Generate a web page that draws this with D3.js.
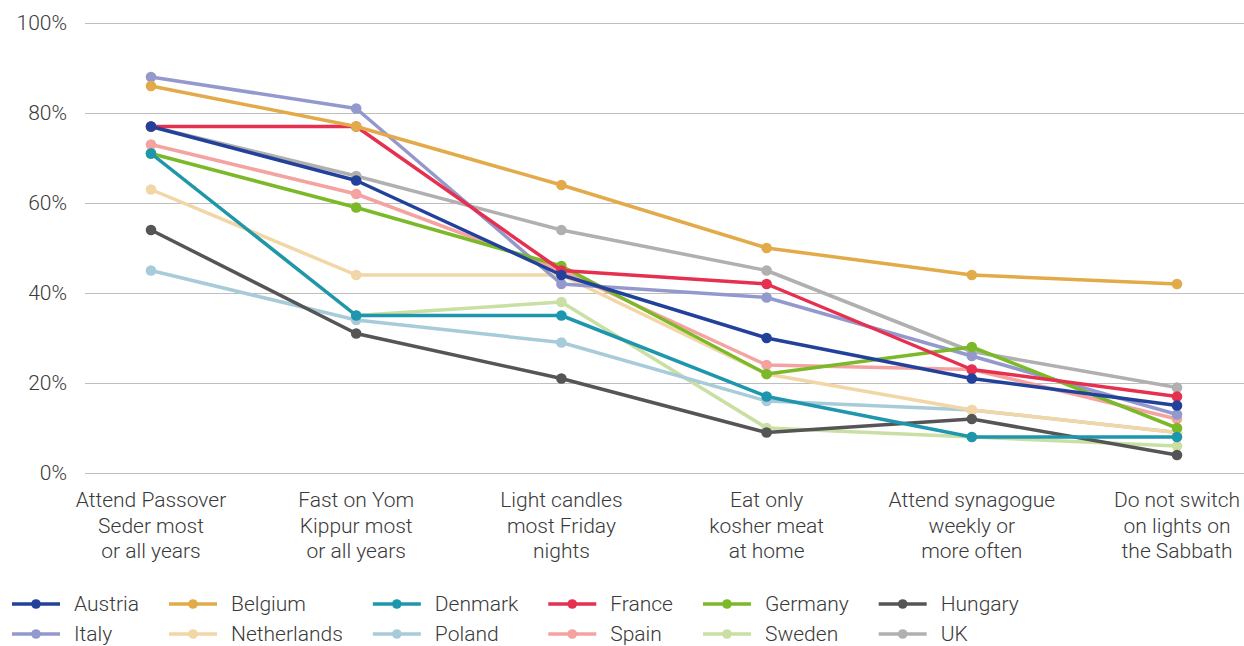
<!DOCTYPE html>
<html>
<head>
<meta charset="utf-8">
<script src="https://cdn.jsdelivr.net/npm/d3@7"></script>
<style>
    body { margin: 0; background: #fff; }
    svg { display: block; font-family: Roboto, "Liberation Sans", sans-serif; font-weight: 300; }
    .tick-label, .cat-label, .legend-label { fill: #3a3a3a; font-size: 21px; }
    .grid { stroke: #bfbfbf; stroke-width: 1; }
</style>
</head>
<body>
<div id="chart-container"></div>
<script>
let categories = [
    ["Attend Passover", "Seder most", "or all years"],
    ["Fast on Yom", "Kippur most", "or all years"],
    ["Light candles", "most Friday", "nights"],
    ["Eat only", "kosher meat", "at home"],
    ["Attend synagogue", "weekly or", "more often"],
    ["Do not switch", "on lights on", "the Sabbath"]
];
let yTicks = [0, 20, 40, 60, 80, 100];

let countries = ["Austria", "Belgium", "Denmark", "France", "Germany", "Hungary",
                 "Italy", "Netherlands", "Poland", "Spain", "Sweden", "UK"];

let austria     = [77, 65, 44, 30, 21, 15];
let belgium     = [86, 77, 64, 50, 44, 42];
let denmark     = [71, 35, 35, 17, 8, 8];
let france      = [77, 77, 45, 42, 23, 17];
let germany     = [71, 59, 46, 22, 28, 10];
let hungary     = [54, 31, 21, 9, 12, 4];
let italy       = [88, 81, 42, 39, 26, 13];
let netherlands = [63, 44, 44, 22, 14, 9];
let poland      = [45, 34, 29, 16, 14, 9];
let spain       = [73, 62, 45, 24, 23, 12];
let sweden      = [71, 35, 38, 10, 8, 6];
let uk          = [77, 66, 54, 45, 27, 19];

let colors = ["#22419a", "#e3aa4a", "#1e97ae", "#e5304f", "#7bb928", "#555555",
              "#9399cc", "#f2d6a6", "#a7cbd8", "#f4a3a0", "#c9dfa3", "#b0b0b0"];

let seriesValues = [austria, belgium, denmark, france, germany, hungary,
                    italy, netherlands, poland, spain, sweden, uk];

let series = countries.map(function(name, i) {
    return {name: name, color: colors[i], values: seriesValues[i]};
});

let width = 1244, height = 646;

let svg = d3.select('#chart-container').append('svg')
    .attr('width', width)
    .attr('height', height);

// Scales
let x = d3.scalePoint()
    .domain(d3.range(categories.length))
    .range([151, 1177]);

let y = d3.scaleLinear()
    .domain([0, 100])
    .range([473, 23]);

// Gridlines + y labels
let grid = svg.append('g');
grid.selectAll('line')
    .data(yTicks)
    .enter().append('line')
    .attr('class', 'grid')
    .attr('x1', 85)
    .attr('x2', width)
    .attr('y1', function(d) { return Math.round(y(d)) + 0.5; })
    .attr('y2', function(d) { return Math.round(y(d)) + 0.5; });

grid.selectAll('text')
    .data(yTicks)
    .enter().append('text')
    .attr('class', 'tick-label')
    .attr('x', 67)
    .attr('y', function(d) { return y(d); })
    .attr('dy', '0.35em')
    .attr('text-anchor', 'end')
    .text(function(d) { return d + '%'; });

// Category labels
let catLabel = svg.append('g').selectAll('text')
    .data(categories)
    .enter().append('text')
    .attr('class', 'cat-label')
    .attr('text-anchor', 'middle')
    .attr('transform', function(d, i) { return 'translate(' + x(i) + ',500)'; });

catLabel.selectAll('tspan')
    .data(function(d) { return d; })
    .enter().append('tspan')
    .attr('x', 0)
    .attr('y', function(d, i) { return i * 25.5; })
    .attr('dy', '0.35em')
    .text(function(d) { return d; });

// Lines (first series drawn last so it sits on top)
let line = d3.line()
    .x(function(d, i) { return x(i); })
    .y(function(d) { return y(d); });

let drawOrder = series.slice().reverse();

let seriesG = svg.append('g').selectAll('g.series')
    .data(drawOrder)
    .enter().append('g')
    .attr('class', 'series');

seriesG.append('path')
    .attr('d', function(d) { return line(d.values); })
    .attr('fill', 'none')
    .attr('stroke', function(d) { return d.color; })
    .attr('stroke-width', 3.5)
    .attr('stroke-linejoin', 'round');

seriesG.selectAll('circle')
    .data(function(d) { return d.values.map(function(v) { return {v: v, color: d.color}; }); })
    .enter().append('circle')
    .attr('cx', function(d, i) { return x(i); })
    .attr('cy', function(d) { return y(d.v); })
    .attr('r', 5.3)
    .attr('fill', function(d) { return d.color; });

// Legend: 6 columns x 2 rows
let legendRows = [604, 634];
let legend = svg.append('g');
let colX = 12;
for (let c = 0; c < 6; c++) {
    let maxW = 0;
    for (let r = 0; r < 2; r++) {
        let s = series[c + r * 6];
        let ly = legendRows[r];
        legend.append('line')
            .attr('x1', colX).attr('x2', colX + 48)
            .attr('y1', ly).attr('y2', ly)
            .attr('stroke', s.color)
            .attr('stroke-width', 3.5);
        legend.append('circle')
            .attr('cx', colX + 24).attr('cy', ly)
            .attr('r', 4.8)
            .attr('fill', s.color);
        let t = legend.append('text')
            .attr('class', 'legend-label')
            .attr('x', colX + 62)
            .attr('y', ly)
            .attr('dy', '0.35em')
            .text(s.name);
        maxW = Math.max(maxW, t.node().getComputedTextLength());
    }
    colX = colX + 62 + maxW + 30;
}
</script>
</body>
</html>
